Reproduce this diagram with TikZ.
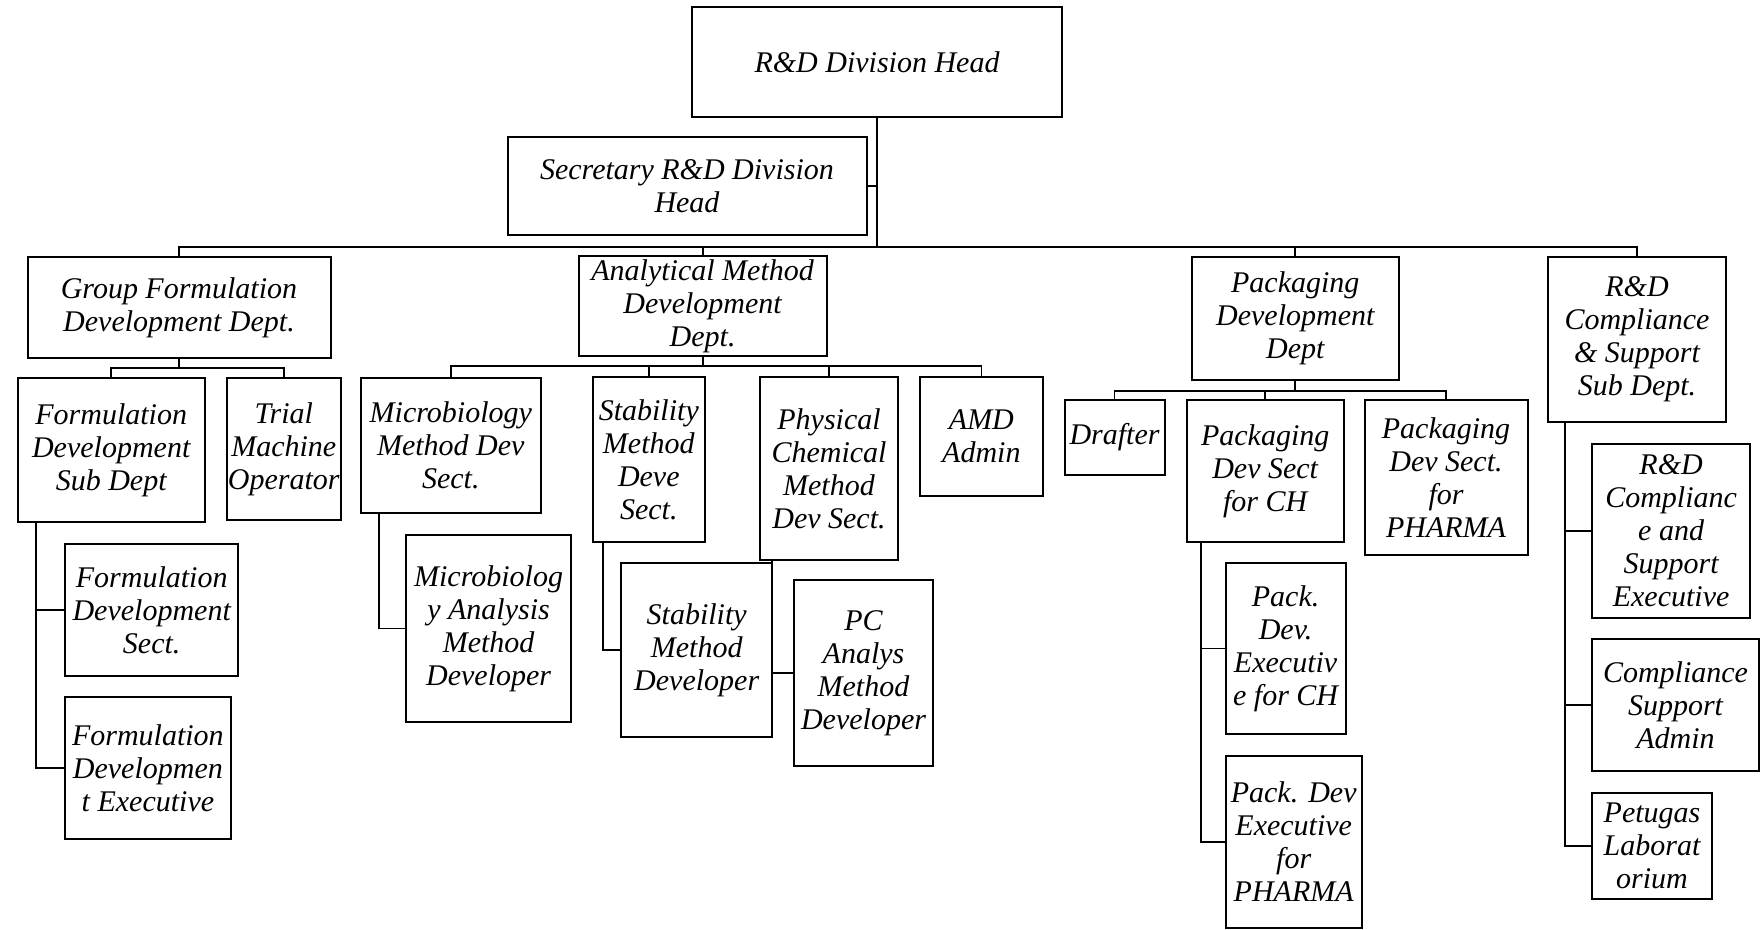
\documentclass[tikz,border=0pt]{standalone}
\usepackage{fontspec}
\setmainfont{Liberation Serif}
\usetikzlibrary{calc}
\begin{document}
\begin{tikzpicture}[x=1pt,y=-1pt,
  box/.style={draw=black, line width=2pt, fill=white, inner sep=0pt, align=center,
    font=\fontsize{30}{33}\selectfont\itshape},
  link/.style={draw=black, line width=1.8pt}]
\useasboundingbox (0,0) rectangle (1764,929);

% top level
\node[box, minimum width=370, minimum height=110] (head) at (877,62) {R\&D Division Head};
\node[box, minimum width=359, minimum height=98] (sec) at (687,186.3) {Secretary R\&D Division\\Head};

% departments
\node[box, minimum width=303, minimum height=101.6] (gfd) at (179,307.5) {Group Formulation\\Development Dept.};
\node[box, minimum width=248, minimum height=100] (amd) at (702.6,306) {Analytical Method\\Development\\Dept.};
\node[box, minimum width=207.5, minimum height=123] (pdd) at (1295.3,318) {Packaging\\Development\\Dept};
\node[box, minimum width=178, minimum height=165] (rdc) at (1637,339) {R\&D\\Compliance\\\& Support\\Sub Dept.};

% formulation group
\node[box, minimum width=187, minimum height=143.4] (fds) at (111.2,449.8) {Formulation\\Development\\Sub Dept};
\node[box, minimum width=113.6, minimum height=142] (tmo) at (283.8,449) {Trial\\Machine\\Operator};
\node[box, minimum width=173.4, minimum height=132.8] (fdsect) at (151.7,610) {Formulation\\Development\\Sect.};
\node[box, minimum width=165.8, minimum height=141.6] (fdexec) at (147.9,768.2) {Formulation\\Developmen\\t Executive};

% analytical method group
\node[box, minimum width=179.5, minimum height=135] (mmds) at (450.8,445) {Microbiology\\Method Dev\\Sect.};
\node[box, minimum width=165.7, minimum height=187.2] (mamd) at (488.6,628.5) {Microbiolog\\y Analysis\\Method\\Developer};
\node[box, minimum width=111.5, minimum height=165] (smds) at (648.8,459.5) {Stability\\Method\\Deve\\Sect.};
\node[box, minimum width=151, minimum height=173.4] (smdev) at (696.7,650) {Stability\\Method\\Developer};
\node[box, minimum width=138, minimum height=183] (pcmds) at (829,468.5) {Physical\\Chemical\\Method\\Dev Sect.};
\node[box, minimum width=139, minimum height=186] (pcamd) at (863.5,673) {PC\\Analys\\Method\\Developer};
\node[box, minimum width=123.8, minimum height=119] (admin) at (981.4,436.5) {AMD\\Admin};

% packaging group
\node[box, minimum width=100, minimum height=75] (drafter) at (1114.5,437.2) {Drafter};
\node[box, minimum width=157, minimum height=142.5] (pdsch) at (1265.2,470.8) {Packaging\\Dev Sect\\for CH};
\node[box, minimum width=163, minimum height=155.4] (pdsph) at (1446,477.5) {Packaging\\Dev Sect.\\for\\PHARMA};
\node[box, minimum width=120, minimum height=170.5] (pdech) at (1285.6,648.5) {Pack.\\Dev.\\Executiv\\e for CH};
\node[box, minimum width=136.2, minimum height=171.7] (pdeph) at (1293.7,842) {Pack. Dev\\Executive\\for\\PHARMA};

% compliance group
\node[box, minimum width=157.8, minimum height=173.4] (rdcse) at (1671.1,530.9) {R\&D\\Complianc\\e and\\Support\\Executive};
\node[box, minimum width=166.6, minimum height=131.7] (csa) at (1675.5,705.3) {Compliance\\Support\\Admin};
\node[box, minimum width=119.5, minimum height=105.9] (petugas) at (1652,845.9) {Petugas\\Laborat\\orium};

% main trunk and bus
\coordinate (bus) at (877,246.7);
\draw[link] (head.south) -- (bus);
\draw[link] (sec.east) -- (sec.east -| head.south);
\draw[link] (gfd.north) |- (bus) -| (rdc.north);
\draw[link] (amd.north) -- (amd.north |- bus);
\draw[link] (pdd.north) -- (pdd.north |- bus);

% formulation connectors
\coordinate (gbus) at (179,368);
\draw[link] (gfd.south) -- (gfd.south |- gbus);
\draw[link] (fds.north) |- (gbus) -| (tmo.north);
\coordinate (fspine) at ($(fds.south west)+(19.5,0)$);
\draw[link] (fspine) |- (fdsect.west);
\draw[link] (fspine) |- (fdexec.west);

% analytical connectors
\coordinate (abus) at (702.6,365.7);
\draw[link] (amd.south) -- (amd.south |- abus);
\draw[link] (mmds.north) |- (abus) -| (admin.north);
\draw[link] (smds.north) -- (smds.north |- abus);
\draw[link] (pcmds.north) -- (pcmds.north |- abus);
\coordinate (mspine) at ($(mmds.south west)+(18.6,0)$);
\draw[link] (mspine) |- (mamd.west);
\coordinate (sspine) at ($(smds.south west)+(11,0)$);
\draw[link] (sspine) |- (smdev.west);
\coordinate (pspine) at ($(pcmds.south west)+(13,0)$);
\draw[link] (pspine) |- (pcamd.west);

% packaging connectors
\coordinate (pbus) at (1295.3,390.8);
\draw[link] (pdd.south) -- (pdd.south |- pbus);
\draw[link] (drafter.north) |- (pbus) -| (pdsph.north);
\draw[link] (pdsch.north) -- (pdsch.north |- pbus);
\coordinate (kspine) at ($(pdsch.south west)+(15,0)$);
\draw[link] (kspine) |- (pdech.west);
\draw[link] (kspine) |- (pdeph.west);

% compliance connectors
\coordinate (cspine) at ($(rdc.south west)+(17.6,0)$);
\draw[link] (cspine) |- (rdcse.west);
\draw[link] (cspine) |- (csa.west);
\draw[link] (cspine) |- (petugas.west);
\end{tikzpicture}
\end{document}
